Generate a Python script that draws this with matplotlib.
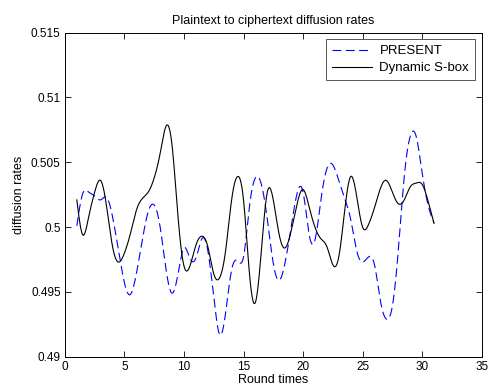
import numpy as np
import matplotlib
matplotlib.use("Agg")
import matplotlib.pyplot as plt

# round positions (half-round steps)
rounds = np.arange(1, 31.01, 0.5)

present = [0.5001, 0.5026, 0.5027, 0.5024, 0.5021, 0.5023, 0.5008, 0.4982, 0.4957, 0.4948,
           0.4964, 0.4990, 0.5012, 0.5017, 0.5000, 0.4967, 0.4949, 0.4964, 0.4984, 0.4976,
           0.4976, 0.4991, 0.4982, 0.4946, 0.4917, 0.4934, 0.4967, 0.4974, 0.4977, 0.5016,
           0.5038, 0.5033, 0.5006, 0.4972, 0.4959, 0.4973, 0.5000, 0.5026, 0.5027, 0.4995,
           0.4990, 0.5021, 0.5045, 0.5048, 0.5036, 0.5022, 0.5006, 0.4982, 0.4973, 0.4977,
           0.4971, 0.4943, 0.4929, 0.4939, 0.4982, 0.5039, 0.5070, 0.5070, 0.5042, 0.5017,
           0.5003]

dynamic_sbox = [0.5021, 0.4994, 0.5008, 0.5027, 0.5036, 0.5016, 0.4985, 0.4973, 0.4980, 0.4995,
                0.5013, 0.5022, 0.5027, 0.5038, 0.5057, 0.5078, 0.5063, 0.5008, 0.4970, 0.4970,
                0.4986, 0.4993, 0.4985, 0.4964, 0.4961, 0.4982, 0.5021, 0.5039, 0.5021, 0.4964,
                0.4942, 0.4982, 0.5027, 0.5021, 0.4994, 0.4984, 0.4997, 0.5018, 0.5029, 0.5016,
                0.5000, 0.4991, 0.4985, 0.4971, 0.4977, 0.5013, 0.5039, 0.5024, 0.5000, 0.5002,
                0.5015, 0.5030, 0.5036, 0.5027, 0.5018, 0.5021, 0.5031, 0.5034, 0.5033, 0.5020,
                0.5003]

yticks = [0.49, 0.495, 0.5, 0.505, 0.51, 0.515]
xticks = [0, 5, 10, 15, 20, 25, 30, 35]


# natural cubic spline, just to draw the curve smooth like the original
def spline(x, y, xs):
    x = np.asarray(x, float)
    y = np.asarray(y, float)
    n = len(x)
    h = np.diff(x)
    A = np.zeros((n, n))
    b = np.zeros(n)
    A[0, 0] = A[-1, -1] = 1
    for i in range(1, n - 1):
        A[i, i - 1] = h[i - 1]
        A[i, i] = 2 * (h[i - 1] + h[i])
        A[i, i + 1] = h[i]
        b[i] = 3 * ((y[i + 1] - y[i]) / h[i] - (y[i] - y[i - 1]) / h[i - 1])
    c = np.linalg.solve(A, b)
    k = np.clip(np.searchsorted(x, xs) - 1, 0, n - 2)
    d = xs - x[k]
    bb = (y[k + 1] - y[k]) / h[k] - h[k] * (2 * c[k] + c[k + 1]) / 3
    dd = (c[k + 1] - c[k]) / (3 * h[k])
    return y[k] + bb * d + c[k] * d ** 2 + dd * d ** 3


plt.rcParams['font.family'] = ['Liberation Sans', 'DejaVu Sans']
plt.rcParams['font.size'] = 9

fig = plt.figure(figsize=(4.88, 3.92), dpi=100)
ax = fig.add_axes([0.133, 0.090, 0.854, 0.8266])

xs = np.linspace(rounds[0], rounds[-1], 800)
ax.plot(xs, spline(rounds, present, xs), color='blue', lw=0.8,
        dashes=(8, 4), label='PRESENT')
ax.plot(xs, spline(rounds, dynamic_sbox, xs), color='black', lw=0.8,
        label='Dynamic S-box')

ax.set_xlim(0, 35)
ax.set_ylim(0.49, 0.515)
ax.set_xticks(xticks)
ax.set_yticks(yticks)
ax.set_yticklabels([f"{t:g}" for t in yticks])
ax.tick_params(direction='in', top=True, right=True, length=4, width=0.6,
               labelsize=8.5, pad=3)
for s in ax.spines.values():
    s.set_linewidth(0.7)

ax.set_title('Plaintext to ciphertext diffusion rates', fontsize=9, pad=6)
ax.set_xlabel('Round times', fontsize=9, labelpad=1)
ax.set_ylabel('diffusion rates', fontsize=9, labelpad=4)

leg = ax.legend(loc='upper right', fancybox=False, framealpha=1,
                edgecolor='#555555', fontsize=9.5, handlelength=3.0,
                handletextpad=0.6, borderaxespad=0.5, borderpad=0.45,
                labelspacing=0.35)
leg.get_frame().set_linewidth(0.7)

fig.savefig('out.png', dpi=100)
